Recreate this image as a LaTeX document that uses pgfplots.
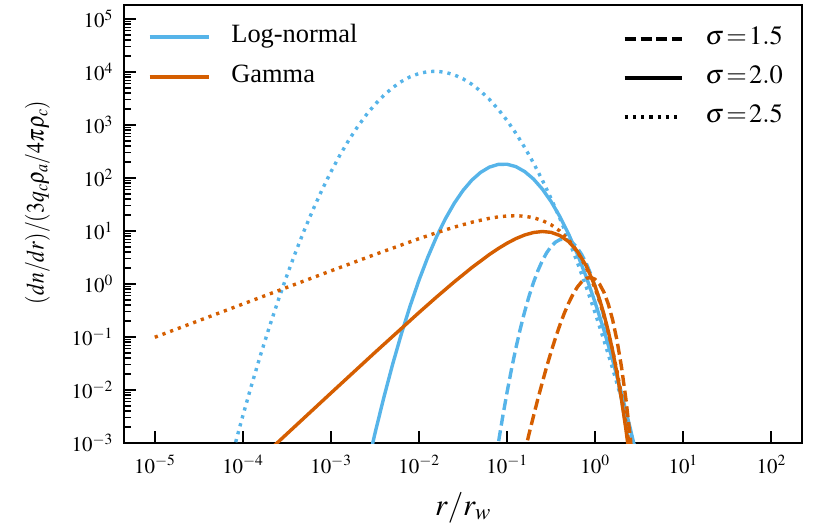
\documentclass[border=0pt]{standalone}
\usepackage{mathptmx}
\usepackage{fontspec}
\setmainfont{Liberation Serif}
\usepackage{graphicx}
\usepackage{pgfplots}
\usepackage{pgfplotstable}
\pgfplotsset{compat=1.18}
\definecolor{cb}{HTML}{56B4E9}
\definecolor{co}{HTML}{D55E00}
\newcommand\tkfont{\fontsize{21}{21}\selectfont}
\newcommand\ylfont{\fontsize{25}{25}\selectfont}
\newcommand\xlfont{\fontsize{31}{31}\selectfont}
\newcommand\lgfont{\fontsize{26.5}{26.5}\selectfont}

% log10(r/r_w)  log10(y)
\pgfplotstableread{
u v
-1.15 -3.5540
-1.10 -3.0161
-1.05 -2.5133
-1.00 -2.0455
-0.95 -1.6128
-0.90 -1.2150
-0.85 -0.8523
-0.80 -0.5245
-0.75 -0.2318
-0.70 0.0259
-0.65 0.2486
-0.60 0.4363
-0.55 0.5889
-0.50 0.7066
-0.45 0.7892
-0.40 0.8369
-0.35 0.8495
-0.30 0.8270
-0.25 0.7696
-0.20 0.6772
-0.15 0.5497
-0.10 0.3873
-0.05 0.1898
0.00 -0.0427
0.05 -0.3102
0.10 -0.6127
0.15 -0.9503
0.20 -1.3228
0.25 -1.7304
0.30 -2.1730
0.35 -2.6506
0.40 -3.1632
0.45 -3.7108
}\lnA
\pgfplotstableread{
u v
-2.6 -3.5429
-2.5 -2.8208
-2.4 -2.1466
-2.3 -1.5204
-2.2 -0.9422
-2.1 -0.4117
-2.0 0.0707
-1.9 0.5053
-1.8 0.8919
-1.7 1.2305
-1.6 1.5214
-1.5 1.7642
-1.4 1.9591
-1.3 2.1061
-1.2 2.2052
-1.1 2.2563
-1.0 2.2595
-0.9 2.2148
-0.8 2.1222
-0.7 1.9816
-0.6 1.7931
-0.5 1.5567
-0.4 1.2723
-0.3 0.9401
-0.2 0.5599
-0.1 0.1318
0.0 -0.3443
0.1 -0.8682
0.2 -1.4402
0.3 -2.0599
0.4 -2.7277
0.5 -3.4434
}\lnB
\pgfplotstableread{
u v
-4.2 -3.7317
-4.1 -3.0936
-4.0 -2.4830
-3.9 -1.8997
-3.8 -1.3438
-3.7 -0.8154
-3.6 -0.3144
-3.5 0.1591
-3.4 0.6053
-3.3 1.0240
-3.2 1.4153
-3.1 1.7791
-3.0 2.1156
-2.9 2.4246
-2.8 2.7062
-2.7 2.9603
-2.6 3.1871
-2.5 3.3864
-2.4 3.5583
-2.3 3.7028
-2.2 3.8198
-2.1 3.9094
-2.0 3.9716
-1.9 4.0064
-1.8 4.0138
-1.7 3.9937
-1.6 3.9462
-1.5 3.8713
-1.4 3.7689
-1.3 3.6391
-1.2 3.4819
-1.1 3.2973
-1.0 3.0853
-0.9 2.8458
-0.8 2.5789
-0.7 2.2846
-0.6 1.9629
-0.5 1.6137
-0.4 1.2371
-0.3 0.8332
-0.2 0.4017
-0.1 -0.0571
0.0 -0.5435
0.1 -1.0572
0.2 -1.5982
0.3 -2.1669
0.4 -2.7628
0.5 -3.3863
}\lnC
\pgfplotstableread{
u v
-0.85 -3.5288
-0.80 -3.1750
-0.75 -2.8301
-0.70 -2.4952
-0.65 -2.1715
-0.60 -1.8604
-0.55 -1.5634
-0.50 -1.2822
-0.45 -1.0188
-0.40 -0.7754
-0.35 -0.5543
-0.30 -0.3583
-0.25 -0.1905
-0.20 -0.0543
-0.15 0.0465
-0.10 0.1074
-0.05 0.1238
0.00 0.0900
0.05 0.0001
0.10 -0.1529
0.15 -0.3767
0.20 -0.6798
0.25 -1.0720
0.30 -1.5641
0.35 -2.1684
0.40 -2.8984
0.45 -3.7696
}\gA
\pgfplotstableread{
u v
-3.8 -3.2899
-3.0 -2.0579
-2.5 -1.2922
-2.0 -0.5387
-1.8 -0.2454
-1.6 0.0389
-1.4 0.3091
-1.2 0.5567
-1.1 0.6682
-1.0 0.7688
-0.9 0.8553
-0.8 0.9244
-0.7 0.9713
-0.6 0.9904
-0.5 0.9746
-0.4 0.9148
-0.3 0.7995
-0.2 0.6143
-0.1 0.3413
0.00 -0.0423
0.05 -0.2843
0.10 -0.5652
0.15 -0.8898
0.20 -1.2634
0.25 -1.6921
0.30 -2.1825
0.35 -2.7421
0.40 -3.3794
0.45 -4.1038
}\gB
\pgfplotstableread{
u v
-5.0 -1.0050
-4.5 -0.6913
-4.0 -0.3778
-3.5 -0.0646
-3.0 0.2477
-2.5 0.5566
-2.0 0.8551
-1.8 0.9676
-1.6 1.0725
-1.4 1.1655
-1.2 1.2394
-1.1 1.2660
-1.0 1.2831
-0.9 1.2884
-0.8 1.2790
-0.7 1.2507
-0.6 1.1990
-0.5 1.1176
-0.4 0.9988
-0.3 0.8332
-0.2 0.6083
-0.1 0.3090
0.00 -0.0842
0.05 -0.3232
0.10 -0.5952
0.15 -0.9042
0.20 -1.2549
0.25 -1.6520
0.30 -2.1015
0.35 -2.6097
0.40 -3.1837
0.45 -3.8317
}\gC

\tikzset{
  dsh/.style={line width=3.4bp, line cap=butt, dash pattern=on 11bp off 4.8bp},
  sld/.style={line width=3.4bp, line cap=butt, solid},
  dtt/.style={line width=3.4bp, line cap=butt, dash pattern=on 3.2bp off 5bp},
}
\pgfplotsset{
  refaxis/.style={scale only axis, width=678bp, height=438bp,
    at={(0bp,0bp)}, anchor=south west,
    xmin=4.4668e-6, xmax=223.87, ymin=1e-3, ymax=1.8365e5},
}

\begin{document}
\begin{tikzpicture}
\useasboundingbox (-124bp,-85bp) rectangle (705bp,443bp);
\begin{axis}[xmode=log, ymode=log, refaxis,
  xtick={1e-5,1e-4,1e-3,1e-2,1e-1,1,10,100},
  ytick={1e-3,1e-2,1e-1,1,10,100,1e3,1e4,1e5},
  xminorticks=false,
  tick align=inside, xtick pos=left, ytick pos=left,
  major tick length=12bp, minor tick length=7bp,
  major tick style={line width=1.9bp, black},
  minor tick style={line width=1.3bp, black},
  axis line style={line width=1.8bp},
  tick label style={font=\tkfont},
  yticklabel style={inner sep=0pt, anchor=east, xshift=-11bp},
  xticklabel style={inner sep=0pt, anchor=base, yshift=-30bp},
  xlabel={$r/r_w$},
  ylabel={\scalebox{0.87}[1]{$(dn/dr)/(3q_c\rho_a/4\pi\rho_c)$}},
  xlabel style={font=\xlfont, at={(axis description cs:0.5,-0.1644)}, anchor=base, inner sep=0pt},
  ylabel style={font=\ylfont, at={(axis description cs:-0.109,0.549)}, anchor=south, inner sep=0pt},
  legend image code/.code={\draw[#1] (0bp,0bp) -- (59bp,0bp);},
  legend cell align=left,
  legend style={at={(0,1)}, anchor=north west, xshift=24bp, yshift=-20bp,
    draw=none, fill=none, inner sep=0pt, outer sep=0pt,
    row sep=16bp, column sep=21bp, font=\lgfont,
    nodes={inner sep=0pt, text height=18bp, text depth=6bp}},
]
\addlegendimage{cb, sld}\addlegendentry{Log-normal}
\addlegendimage{co, sld}\addlegendentry{Gamma}
\addplot[cb, dsh, forget plot] table[x expr=10^(\thisrow{u}), y expr=10^(\thisrow{v})] {\lnA};
\addplot[cb, sld, forget plot] table[x expr=10^(\thisrow{u}), y expr=10^(\thisrow{v})] {\lnB};
\addplot[cb, dtt, forget plot] table[x expr=10^(\thisrow{u}), y expr=10^(\thisrow{v})] {\lnC};
\addplot[co, dsh, forget plot] table[x expr=10^(\thisrow{u}), y expr=10^(\thisrow{v})] {\gA};
\addplot[co, sld, forget plot] table[x expr=10^(\thisrow{u}), y expr=10^(\thisrow{v})] {\gB};
\addplot[co, dtt, forget plot] table[x expr=10^(\thisrow{u}), y expr=10^(\thisrow{v})] {\gC};
\end{axis}
\begin{axis}[xmode=log, ymode=log, refaxis, hide axis,
  legend image code/.code={\draw[#1] (0bp,0bp) -- (57bp,0bp);},
  legend cell align=left,
  legend style={at={(0,1)}, anchor=north west, xshift=499bp, yshift=-22bp,
    draw=none, fill=none, inner sep=0pt, outer sep=0pt,
    row sep=15bp, column sep=22bp, font=\lgfont,
    nodes={inner sep=0pt, text height=18bp, text depth=6bp}},
]
\addlegendimage{black, dsh}\addlegendentry{$\sigma\mkern1.5mu{=}\mkern1.5mu1.5$}
\addlegendimage{black, sld}\addlegendentry{$\sigma\mkern1.5mu{=}\mkern1.5mu2.0$}
\addlegendimage{black, dtt}\addlegendentry{$\sigma\mkern1.5mu{=}\mkern1.5mu2.5$}
\end{axis}
\end{tikzpicture}
\end{document}
